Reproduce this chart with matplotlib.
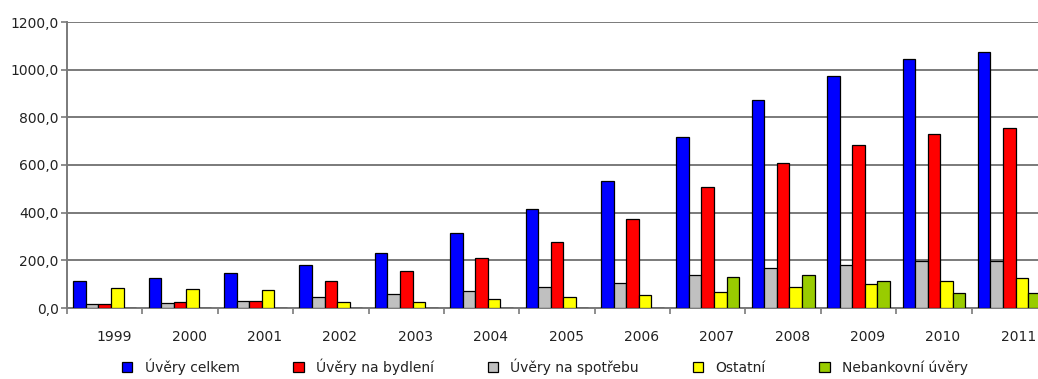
import numpy as np
import matplotlib.pyplot as plt
from matplotlib.patches import Patch

plt.rcParams['font.family'] = ['DejaVu Sans']

years = ['1999', '2000', '2001', '2002', '2003', '2004', '2005',
         '2006', '2007', '2008', '2009', '2010', '2011']

# objem úvěrů domácnostem (mld. Kč)
uvery_celkem = [113, 126, 147, 180, 231, 315, 415, 533, 717, 873, 973, 1045, 1074]
uvery_bydleni = [15, 25, 31, 113, 155, 210, 277, 373, 508, 608, 684, 730, 755]
uvery_spotreba = [17, 21, 29, 46, 59, 71, 88, 105, 138, 168, 180, 197, 197]
ostatni = [84, 80, 76, 25, 25, 38, 46, 55, 67, 88, 101, 113, 126]
nebankovni = [0, 0, 0, 0, 0, 0, 0, 0, 130, 138, 113, 63, 63]

labels = ['Úvěry celkem', 'Úvěry na bydlení', 'Úvěry na spotřebu', 'Ostatní', 'Nebankovní úvěry']
colors = ['#0000ff', '#ff0000', '#c0c0c0', '#ffff00', '#99cc00']

# order of bars inside each year group
bar_series = [(uvery_celkem, colors[0]), (uvery_spotreba, colors[2]),
              (uvery_bydleni, colors[1]), (ostatni, colors[3]), (nebankovni, colors[4])]


def fmt(v, pos):
    return f'{v:.1f}'.replace('.', ',')


def main():
    fig = plt.figure(figsize=(10.38, 3.79), dpi=100)
    ax = fig.add_axes([67 / 1038, 71 / 379, 980 / 1038, 286 / 379])

    x = np.arange(len(years))
    w = 1 / 6
    for i, (vals, c) in enumerate(bar_series):
        ax.bar(x + (i - 2) * w, vals, width=w, color=c, edgecolor='black',
               linewidth=0.9, zorder=3)

    ax.set_xlim(-0.5, len(years) - 0.5)
    ax.set_ylim(0, 1200)
    ax.set_yticks(np.arange(0, 1201, 200))
    ax.yaxis.set_major_formatter(plt.FuncFormatter(fmt))
    ax.grid(axis='y', color='#7a7a7a', linewidth=1.4, zorder=1)

    # tick marks between years, labels shifted slightly to the right
    ax.set_xticks(np.arange(-0.5, len(years), 1))
    ax.set_xticklabels([])
    ax.set_xticks(x + 0.12, minor=True)
    ax.set_xticklabels(years, minor=True)
    ax.tick_params(axis='x', which='major', length=4, color='#7a7a7a', width=1.2)
    ax.tick_params(axis='x', which='minor', length=0, pad=16, labelsize=10,
                   labelcolor='#222222')
    ax.tick_params(axis='y', length=4, color='#7a7a7a', width=1.2, pad=2,
                   labelsize=10, labelcolor='#222222')

    for s in ['top', 'right']:
        ax.spines[s].set_visible(False)
    ax.spines['left'].set_color('#7a7a7a')
    ax.spines['left'].set_linewidth(1.4)
    ax.spines['bottom'].set_color('#7a7a7a')
    ax.spines['bottom'].set_linewidth(1.4)

    handles = [Patch(facecolor=c, edgecolor='black', linewidth=0.9) for c in colors]
    fig.legend(handles, labels, loc='center', bbox_to_anchor=(545 / 1038, 1 - 367 / 379),
               ncol=5, frameon=False, fontsize=10, handlelength=0.75, handleheight=0.75,
               handletextpad=0.9, columnspacing=3.85, labelcolor='#222222')

    fig.savefig('out.png', dpi=100)


if __name__ == '__main__':
    main()
